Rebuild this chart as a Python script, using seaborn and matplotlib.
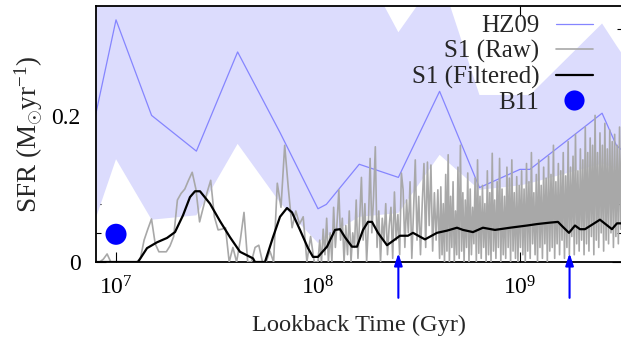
import numpy as np
import pandas as pd
import matplotlib
matplotlib.use("Agg")
import matplotlib.pyplot as plt
import seaborn as sns
from matplotlib.ticker import FixedLocator, NullLocator, LogFormatterMathtext, FixedFormatter
from matplotlib.lines import Line2D

sns.set_theme(style="ticks")
plt.rcParams["font.family"] = ["Liberation Serif", "DejaVu Serif"]
plt.rcParams["mathtext.fontset"] = "custom"
plt.rcParams["mathtext.rm"] = "Liberation Serif"
plt.rcParams["mathtext.it"] = "Liberation Serif:italic"
plt.rcParams["mathtext.bf"] = "Liberation Serif:bold"

# ---------------- data ----------------
# HZ09 reconstructed SFH with uncertainty band
hz_time = [7.9e6, 1.0e7, 1.5e7, 2.5e7, 4.0e7, 6.5e7, 1.0e8, 1.1e8, 1.6e8, 2.5e8,
           4.0e8, 6.3e8, 1.0e9, 1.12e9, 2.55e9, 3.0e9, 3.3e9]
hz_sfr = [0.200, 0.332, 0.201, 0.152, 0.288, 0.177, 0.073, 0.079, 0.134, 0.116,
          0.234, 0.102, 0.127, 0.127, 0.204, 0.160, 0.150]
hz_low = [0.058, 0.141, 0.058, 0.064, 0.162, 0.081, 0.026, 0.035, 0.062, 0.067,
          0.147, 0.099, 0.105, 0.108, 0.135, 0.128, 0.125]
hz_high = [0.45, 0.55, 0.42, 0.38, 0.50, 0.42, 0.37, 0.37, 0.415, 0.315,
           0.395, 0.229, 0.229, 0.229, 0.327, 0.297, 0.28]

# S1 raw SFR: three sampling segments (log-evenly spaced lookback times)
raw_seg_edges = [7.96e6, 1.0e8, 4.0e8, 3.2e9]
raw_seg_counts = [60, 70, 150]
raw_sfr_a = [0.000, 0.000, 0.004, 0.011, 0.000, 0.000, 0.000, 0.000, 0.000, 0.000,
             0.000, 0.000, 0.005, 0.030, 0.045, 0.059, 0.025, 0.014, 0.014, 0.014,
             0.022, 0.035, 0.085, 0.094, 0.100, 0.112, 0.123, 0.100, 0.055, 0.075,
             0.095, 0.112, 0.062, 0.044, 0.045, 0.047, 0.000, 0.020, 0.000, 0.030,
             0.068, 0.000, 0.000, 0.020, 0.023, 0.000, 0.000, 0.015, 0.000, 0.108,
             0.075, 0.160, 0.100, 0.047, 0.070, 0.052, 0.062, 0.000, 0.035, 0.000]
raw_sfr_b = [0.000, 0.030, 0.000, 0.045, 0.010, 0.060, 0.000, 0.040, 0.000, 0.075,
             0.020, 0.055, 0.099, 0.030, 0.060, 0.000, 0.050, 0.010, 0.070, 0.000,
             0.040, 0.020, 0.085, 0.005, 0.060, 0.116, 0.030, 0.080, 0.000, 0.050,
             0.142, 0.040, 0.090, 0.158, 0.020, 0.070, 0.000, 0.060, 0.030, 0.080,
             0.010, 0.050, 0.075, 0.005, 0.096, 0.030, 0.065, 0.010, 0.122, 0.099,
             0.020, 0.085, 0.040, 0.110, 0.005, 0.070, 0.140, 0.030, 0.090, 0.010,
             0.080, 0.135, 0.020, 0.137, 0.050, 0.133, 0.015, 0.095, 0.030, 0.099]
raw_sfr_c = [0.005, 0.103, 0.010, 0.080, 0.000, 0.120, 0.015, 0.147, 0.000, 0.090,
             0.020, 0.110, 0.000, 0.070, 0.010, 0.130, 0.005, 0.160, 0.015, 0.095,
             0.000, 0.085, 0.020, 0.122, 0.000, 0.100, 0.010, 0.075, 0.025, 0.115,
             0.000, 0.140, 0.012, 0.090, 0.005, 0.105, 0.020, 0.080, 0.000, 0.125,
             0.010, 0.095, 0.000, 0.149, 0.015, 0.085, 0.005, 0.110, 0.020, 0.142,
             0.000, 0.100, 0.010, 0.090, 0.005, 0.130, 0.020, 0.115, 0.000, 0.140,
             0.015, 0.095, 0.005, 0.117, 0.000, 0.105, 0.020, 0.125, 0.010, 0.100,
             0.000, 0.135, 0.015, 0.110, 0.005, 0.150, 0.025, 0.095, 0.010, 0.120,
             0.000, 0.140, 0.020, 0.105, 0.005, 0.130, 0.025, 0.115, 0.000, 0.145,
             0.015, 0.120, 0.020, 0.160, 0.005, 0.110, 0.025, 0.135, 0.010, 0.125,
             0.030, 0.150, 0.005, 0.118, 0.020, 0.165, 0.010, 0.130, 0.035, 0.145,
             0.010, 0.175, 0.025, 0.125, 0.015, 0.155, 0.030, 0.140, 0.010, 0.185,
             0.025, 0.150, 0.015, 0.170, 0.035, 0.160, 0.010, 0.201, 0.030, 0.150,
             0.020, 0.177, 0.040, 0.160, 0.015, 0.190, 0.030, 0.155, 0.025, 0.181,
             0.040, 0.165, 0.020, 0.175, 0.035, 0.160, 0.025, 0.185, 0.045, 0.170]

# S1 filtered SFR
filt_time = [7.96e6, 1.285e7, 1.424e7, 1.596e7, 1.789e7, 1.959e7, 2.146e7, 2.324e7, 2.461e7, 2.605e7,
             2.919e7, 3.273e7, 3.667e7, 4.11e7, 4.766e7, 4.876e7, 5.465e7, 5.987e7, 6.486e7, 7.023e7,
             7.435e7, 8.145e7, 8.925e7, 9.445e7, 1.0e8, 1.108e8, 1.214e8, 1.285e8, 1.36e8, 1.473e8,
             1.56e8, 1.671e8, 1.769e8, 1.851e8, 1.982e8, 2.196e8, 2.352e8, 2.547e8, 2.789e8, 2.953e8,
             3.386e8, 3.883e8, 4.351e8, 4.876e8, 5.222e8, 5.85e8, 6.557e8, 7.52e8, 8.925e8, 1.083e9,
             1.214e9, 1.408e9, 1.542e9, 1.633e9, 1.748e9, 1.872e9, 1.982e9, 2.098e9, 2.489e9, 2.854e9,
             3.021e9, 3.2e9]
filt_sfr = [0.000, 0.000, 0.019, 0.027, 0.033, 0.041, 0.064, 0.089, 0.097, 0.097,
            0.080, 0.056, 0.034, 0.014, 0.005, 0.000, 0.000, 0.034, 0.062, 0.074,
            0.068, 0.044, 0.019, 0.007, 0.007, 0.021, 0.044, 0.045, 0.034, 0.021,
            0.021, 0.044, 0.055, 0.055, 0.040, 0.023, 0.029, 0.036, 0.036, 0.040,
            0.031, 0.040, 0.043, 0.047, 0.044, 0.041, 0.047, 0.044, 0.047, 0.050,
            0.052, 0.054, 0.055, 0.048, 0.040, 0.050, 0.045, 0.045, 0.058, 0.045,
            0.053, 0.053]

# B11 measurement
b11_time = [1.0e7]
b11_sfr = [0.038]

# arrows marking epochs
arrow_times = [2.5e8, 1.76e9]

# ---------------- figure ----------------
W, H = 621, 339
fig = plt.figure(figsize=(W / 100, H / 100), dpi=100)
ax = fig.add_axes([96 / W, 1 - 262 / H, (622 - 96) / W, (262 - 6) / H])

hz_col = "#8585ff"
fill_col = "#dcdcfd"
raw_col = "#a8a8a8"

ax.fill_between(hz_time, hz_low, hz_high, color=fill_col, lw=0, zorder=1)
sns.lineplot(x=hz_time, y=hz_sfr, ax=ax, color=hz_col, lw=0.9, estimator=None, sort=False, zorder=2)

raw_sfr = raw_sfr_a + raw_sfr_b + raw_sfr_c
raw_time = np.concatenate([
    np.geomspace(raw_seg_edges[0], raw_seg_edges[1], raw_seg_counts[0], endpoint=False),
    np.geomspace(raw_seg_edges[1], raw_seg_edges[2], raw_seg_counts[1], endpoint=False),
    np.geomspace(raw_seg_edges[2], raw_seg_edges[3], raw_seg_counts[2]),
])
raw_df = pd.DataFrame({"t": raw_time, "sfr": raw_sfr})
sns.lineplot(data=raw_df, x="t", y="sfr", ax=ax, color=raw_col, lw=1.2, estimator=None, sort=False, zorder=3)

sns.lineplot(x=filt_time, y=filt_sfr, ax=ax, color="black", lw=1.6, estimator=None, sort=False, zorder=4)
sns.scatterplot(x=b11_time, y=b11_sfr, ax=ax, color="#0000ff", s=230, edgecolor="none", zorder=5)

for t in arrow_times:
    ax.annotate("", xy=(t, 0.012), xycoords="data",
                xytext=(t, -0.14), textcoords=("data", "axes fraction"),
                arrowprops=dict(arrowstyle="-|>,head_length=0.6,head_width=0.2", color="#0000ff", lw=1.5,
                                shrinkA=0, shrinkB=0),
                annotation_clip=False, zorder=6)

ax.set_xscale("log")
ax.set_xlim(7.96e6, 3.2e9)
ax.set_ylim(0, 0.351)

ax.xaxis.set_major_locator(FixedLocator([1e7, 1e8, 1e9]))
ax.xaxis.set_major_formatter(LogFormatterMathtext())
ax.xaxis.set_minor_locator(NullLocator())
ax.yaxis.set_major_locator(FixedLocator([0, 0.2]))
ax.yaxis.set_major_formatter(FixedFormatter(["0", "0.2"]))
ax.yaxis.set_minor_locator(FixedLocator([0.04, 0.08, 0.12, 0.16, 0.24, 0.28, 0.32]))

ax.tick_params(which="both", direction="in", top=True, right=True, width=0.8, colors="black",
               labelsize=17, labelcolor="black")
ax.tick_params(which="major", length=7.2)
ax.tick_params(which="minor", length=3.6)
ax.tick_params(axis="y", pad=11)
ax.tick_params(axis="x", pad=10.5)
for s in ax.spines.values():
    s.set_linewidth(1.3)
    s.set_color("black")

ax.set_xlabel("Lookback Time (Gyr)", fontsize=17.6, labelpad=11)
ax.set_ylabel("SFR (M$_{\\odot}$yr$^{-1}$)", fontsize=19.5, labelpad=5)

handles = [
    Line2D([], [], color=hz_col, lw=0.9),
    Line2D([], [], color=raw_col, lw=1.2),
    Line2D([], [], color="black", lw=1.6),
    Line2D([], [], color="#0000ff", marker="o", ls="none", markersize=14.5, markeredgewidth=0),
]
labels = ["HZ09", "S1 (Raw)", "S1 (Filtered)", "B11"]
leg = ax.legend(handles, labels, loc="upper right", bbox_to_anchor=(593 / W, 1 - 15 / H),
                bbox_transform=fig.transFigure, frameon=False, markerfirst=False,
                fontsize=18, handlelength=1.5, handletextpad=0.65, labelspacing=0.1,
                borderpad=0, borderaxespad=0)
leg.set_zorder(10)

fig.savefig("out.png", dpi=100)
